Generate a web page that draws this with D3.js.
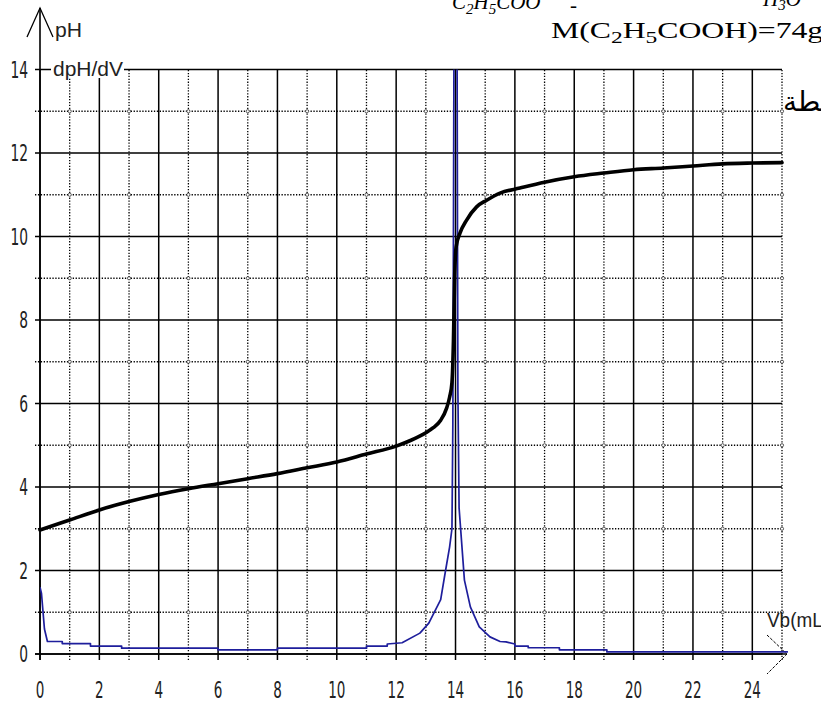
<!DOCTYPE html>
<html>
<head>
<meta charset="utf-8">
<script src="https://cdn.jsdelivr.net/npm/d3@7/dist/d3.min.js"></script>
<style>
  html, body { margin: 0; padding: 0; background: #fff; }
  svg { display: block; }
</style>
</head>
<body>
<svg id="chart" width="821" height="704"></svg>
<script>
// ---- data ----
const xTickValues = [0, 2, 4, 6, 8, 10, 12, 14, 16, 18, 20, 22, 24];
const yTickValues = [0, 2, 4, 6, 8, 10, 12, 14];

// pH curve (black)
const volume = [0, 1, 2, 3, 4, 5, 6, 7, 8, 9, 10, 11, 12, 12.5, 13, 13.25, 13.5, 13.7, 13.8, 13.88, 13.93, 13.97, 14.02, 14.15, 14.38, 14.71, 15.05, 15.5, 16.17, 17, 18, 19, 20, 21, 22, 23, 24, 25];
const pH = [2.97, 3.21, 3.45, 3.65, 3.82, 3.96, 4.08, 4.2, 4.32, 4.46, 4.6, 4.79, 4.98, 5.12, 5.3, 5.42, 5.6, 5.89, 6.15, 6.5, 7.5, 9.0, 9.75, 10.08, 10.4, 10.71, 10.87, 11.04, 11.16, 11.3, 11.43, 11.52, 11.6, 11.64, 11.69, 11.74, 11.76, 11.77];

// dpH/dV curve (blue)
const dVolume = [0, 0.05, 0.15, 0.25, 0.75, 0.75, 1.7, 1.7, 2.75, 2.75, 6, 6, 8, 8, 11, 11, 11.7, 11.7, 12.2, 12.8, 13.1, 13.5, 13.65, 13.8, 13.88, 13.91, 13.95, 14.05, 14.08, 14.12, 14.3, 14.5, 14.8, 15.16, 15.5, 15.7, 16, 16, 16.45, 16.45, 17.5, 17.5, 19.1, 19.1, 25.2];
const dpHdV = [1.6, 1.45, 0.6, 0.3, 0.3, 0.25, 0.25, 0.19, 0.19, 0.14, 0.14, 0.1, 0.1, 0.14, 0.14, 0.19, 0.19, 0.24, 0.27, 0.5, 0.74, 1.3, 1.94, 2.56, 3.0, 5.5, 15, 15, 6.3, 3.5, 1.77, 1.13, 0.65, 0.41, 0.3, 0.29, 0.24, 0.19, 0.19, 0.15, 0.15, 0.1, 0.1, 0.05, 0.05];

// ---- layout ----
const svg = d3.select("#chart");
const x = d3.scaleLinear().domain([0, 25]).range([40, 782]);
const y = d3.scaleLinear().domain([0, 14]).range([654, 69.5]);

const narrowFont = "'Liberation Sans Narrow', 'Arial Narrow', 'DejaVu Sans Condensed', 'Liberation Sans', sans-serif";

svg.append("defs").append("clipPath").attr("id", "plotClip")
  .append("rect")
  .attr("x", x(0)).attr("y", y(14))
  .attr("width", x(25.3) - x(0)).attr("height", y(0) - y(14) + 1);

// ---- grid ----
const grid = svg.append("g");
const allX = d3.range(0, 26);
const allY = d3.range(0, 15);

allX.forEach(v => {
  const major = v % 2 === 0;
  grid.append("line")
    .attr("x1", x(v)).attr("x2", x(v))
    .attr("y1", y(0) + 6).attr("y2", y(14))
    .attr("stroke", "#000")
    .attr("stroke-width", major ? 1.5 : 1.3)
    .attr("stroke-dasharray", major ? null : "1.3,1.6");
});
allY.forEach(v => {
  const major = v % 2 === 0;
  grid.append("line")
    .attr("x1", x(0) - 5).attr("x2", x(25))
    .attr("y1", y(v)).attr("y2", y(v))
    .attr("stroke", "#000")
    .attr("stroke-width", major ? 1.5 : 1.3)
    .attr("stroke-dasharray", major ? null : "1.3,1.6");
});
allX.filter(v => v % 2 === 1).forEach(vx => {
  allY.filter(v => v % 2 === 1).forEach(vy => {
    grid.append("circle")
      .attr("cx", x(vx)).attr("cy", y(vy)).attr("r", 1.6)
      .attr("fill", "#fff").attr("stroke", "#333").attr("stroke-width", 0.8);
  });
});

// ---- axes ----
const axes = svg.append("g").attr("stroke", "#000").attr("fill", "none");
axes.append("line").attr("x1", x(0)).attr("x2", x(0)).attr("y1", y(0) + 6).attr("y2", 8).attr("stroke-width", 1.6);
axes.append("path")
  .attr("d", `M${x(0) - 13},37 L${x(0)},8 L${x(0) + 13},37`)
  .attr("stroke-width", 1.3);
axes.append("line").attr("x1", x(0) - 5).attr("x2", x(25) + 5).attr("y1", y(0)).attr("y2", y(0)).attr("stroke-width", 1.6);
axes.append("path")
  .attr("d", `M${x(25) - 15},${y(0) - 19} L${x(25) + 5},${y(0)} L${x(25) - 15},${y(0) + 20}`)
  .attr("stroke-width", 1)
  .attr("stroke-dasharray", "3,1.5");

// tick labels
const xl = svg.append("g").attr("font-family", narrowFont).attr("font-size", 22.5).attr("fill", "#222");
xTickValues.forEach(v => {
  const s = String(v);
  xl.append("text")
    .attr("x", x(v)).attr("y", 698)
    .attr("text-anchor", "middle")
    .attr("textLength", s.length * 8.6)
    .attr("lengthAdjust", "spacingAndGlyphs")
    .text(s);
});
yTickValues.forEach(v => {
  const s = String(v);
  xl.append("text")
    .attr("x", 28 - s.length * 8.8).attr("y", y(v) + 8)
    .attr("textLength", s.length * 8.8)
    .attr("lengthAdjust", "spacingAndGlyphs")
    .text(s);
});

// ---- series ----
const line = d3.line().x(d => x(d[0])).y(d => y(d[1]));
const smooth = d3.line().x(d => x(d[0])).y(d => y(d[1])).curve(d3.curveMonotoneX);

svg.append("path")
  .datum(dVolume.map((v, i) => [v, dpHdV[i]]))
  .attr("clip-path", "url(#plotClip)")
  .attr("fill", "none")
  .attr("stroke", "#1e1e9c")
  .attr("stroke-width", 1.7)
  .attr("stroke-linejoin", "round")
  .attr("d", line);

svg.append("path")
  .datum(volume.map((v, i) => [v, pH[i]]))
  .attr("fill", "none")
  .attr("stroke", "#000")
  .attr("stroke-width", 3.6)
  .attr("stroke-linejoin", "round")
  .attr("stroke-linecap", "round")
  .attr("d", smooth);

// ---- axis titles ----
const tf = "'Liberation Sans', Arial, sans-serif";
svg.append("text").attr("x", 55).attr("y", 37).attr("font-family", tf).attr("font-size", 20).attr("fill", "#222")
  .attr("textLength", 27).attr("lengthAdjust", "spacingAndGlyphs").text("pH");
svg.append("rect").attr("x", 51).attr("y", 59).attr("width", 73).attr("height", 19).attr("fill", "#fff");
svg.append("text").attr("x", 53).attr("y", 76).attr("font-family", tf).attr("font-size", 20).attr("fill", "#222")
  .attr("textLength", 70).attr("lengthAdjust", "spacingAndGlyphs").text("dpH/dV");
svg.append("text").attr("x", 767).attr("y", 627).attr("font-family", tf).attr("font-size", 20).attr("fill", "#222")
  .attr("textLength", 62).attr("lengthAdjust", "spacingAndGlyphs").text("Vb(mL)");

// ---- surrounding document fragments ----
const serif = "'Liberation Serif', 'Times New Roman', serif";
const m = svg.append("text").attr("transform", "translate(551,38) scale(1.38,1)")
  .attr("font-family", serif).attr("font-size", 23).attr("fill", "#000");
m.append("tspan").text("M(C");
m.append("tspan").attr("font-size", 17).attr("dy", 5).text("2");
m.append("tspan").attr("dy", -5).text("H");
m.append("tspan").attr("font-size", 17).attr("dy", 5).text("5");
m.append("tspan").attr("dy", -5).text("COOH)=74g/mol");

const c = svg.append("text").attr("x", 452).attr("y", 9)
  .attr("font-family", serif).attr("font-style", "italic").attr("font-size", 21).attr("fill", "#000");
c.append("tspan").text("C");
c.append("tspan").attr("font-size", 15).attr("dy", 5).text("2");
c.append("tspan").attr("dy", -5).text("H");
c.append("tspan").attr("font-size", 15).attr("dy", 5).text("5");
c.append("tspan").attr("dy", -5).text("COO");
svg.append("text").attr("x", 570).attr("y", 12).attr("font-family", serif).attr("font-size", 21).text("-");

const h = svg.append("text").attr("x", 763).attr("y", 6)
  .attr("font-family", serif).attr("font-style", "italic").attr("font-size", 21).attr("fill", "#000");
h.append("tspan").text("H");
h.append("tspan").attr("font-size", 15).attr("dy", 4).text("3");
h.append("tspan").attr("dy", -4).text("O");

svg.append("text").attr("x", 783).attr("y", 111)
  .attr("font-family", "'DejaVu Sans', 'Noto Sans', serif").attr("font-size", 28).attr("fill", "#000")
  .text("نقطة");
</script>
</body>
</html>
